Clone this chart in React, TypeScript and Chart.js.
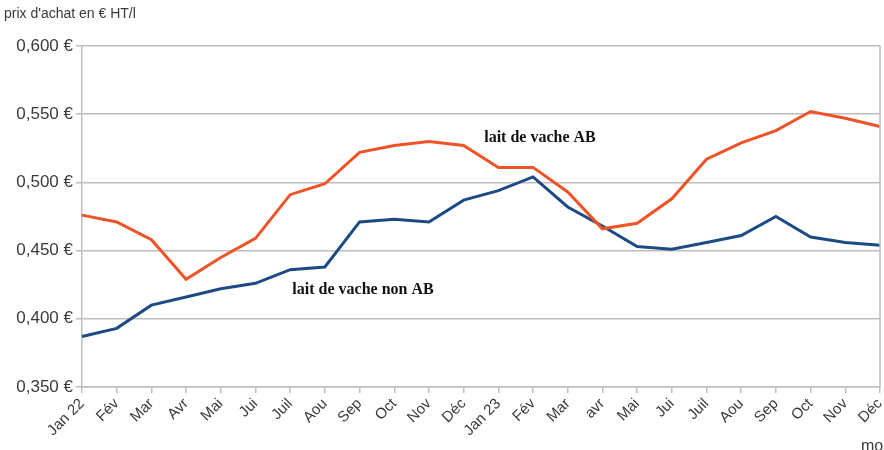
import React, { useEffect, useRef } from "react";
import { Chart, registerables } from "chart.js";

Chart.register(...registerables);

const months = [
  "Jan 22", "Fév", "Mar", "Avr", "Mai", "Jui", "Juil", "Aou", "Sep", "Oct", "Nov", "Déc",
  "Jan 23", "Fév", "Mar", "avr", "Mai", "Jui", "Juil", "Aou", "Sep", "Oct", "Nov", "Déc",
];

const laitAB = [
  0.476, 0.471, 0.458, 0.429, 0.445, 0.459, 0.491, 0.499, 0.522, 0.527, 0.530, 0.527,
  0.511, 0.511, 0.493, 0.466, 0.470, 0.488, 0.517, 0.529, 0.538, 0.552, 0.547, 0.541,
];

const laitNonAB = [
  0.387, 0.393, 0.410, 0.416, 0.422, 0.426, 0.436, 0.438, 0.471, 0.473, 0.471, 0.487,
  0.494, 0.504, 0.482, 0.468, 0.453, 0.451, 0.456, 0.461, 0.475, 0.460, 0.456, 0.454,
];

const yMin = 0.35;
const yMax = 0.6;
const yStep = 0.05;

const yTitle = "prix d'achat en € HT/l";
const xTitle = "mois";

// Series captions, anchored in data space (category index, price)
const captionAB = { text: "lait de vache AB", index: 13.2, value: 0.533 };
const captionNonAB = { text: "lait de vache non AB", index: 8.1, value: 0.421 };

const ORANGE = "#ef5326";
const NAVY = "#1d4a84";
const GRID = "#bdbdbd";
const TEXT = "#3a3a3a";

const overlayPlugin = {
  id: "overlay",
  afterDraw(chart: any) {
    const { ctx, chartArea, scales } = chart;
    const x = scales.x;
    const y = scales.y;
    ctx.save();

    // right frame line
    ctx.strokeStyle = GRID;
    ctx.lineWidth = 1.5;
    ctx.beginPath();
    ctx.moveTo(chartArea.right, chartArea.top);
    ctx.lineTo(chartArea.right, chartArea.bottom);
    ctx.stroke();

    // axis titles
    ctx.fillStyle = TEXT;
    ctx.font = '14px "Liberation Sans", Arial, sans-serif';
    ctx.textAlign = "left";
    ctx.textBaseline = "middle";
    ctx.fillText(yTitle, 4, 14);
    ctx.font = '16px "Liberation Sans", Arial, sans-serif';
    ctx.textBaseline = "top";
    ctx.fillText(xTitle, 861, 439);

    // series captions
    ctx.fillStyle = "#111";
    ctx.font = 'bold 16px "Liberation Serif", "Times New Roman", serif';
    ctx.textAlign = "center";
    ctx.textBaseline = "middle";
    for (const c of [captionAB, captionNonAB]) {
      ctx.fillText(c.text, x.getPixelForValue(c.index), y.getPixelForValue(c.value));
    }
    ctx.restore();
  },
};

export default function App() {
  const canvasRef = useRef<HTMLCanvasElement | null>(null);

  useEffect(() => {
    document.body.style.margin = "0";
    const canvas = canvasRef.current;
    if (!canvas) return;
    const chart = new Chart(canvas, {
      type: "line",
      data: {
        labels: months,
        datasets: [
          {
            label: "lait de vache AB",
            data: laitAB,
            borderColor: ORANGE,
            backgroundColor: ORANGE,
            borderWidth: 3,
            pointRadius: 0,
            tension: 0,
          },
          {
            label: "lait de vache non AB",
            data: laitNonAB,
            borderColor: NAVY,
            backgroundColor: NAVY,
            borderWidth: 3,
            pointRadius: 0,
            tension: 0,
          },
        ],
      },
      options: {
        responsive: false,
        animation: false,
        layout: { padding: { top: 46, right: 4, left: 0, bottom: 0 } },
        plugins: {
          legend: { display: false },
          tooltip: { enabled: false },
          title: { display: false },
        },
        scales: {
          x: {
            offset: false,
            grid: {
              display: true,
              drawOnChartArea: false,
              drawTicks: true,
              tickLength: 6,
              color: GRID,
              lineWidth: 1.5,
            },
            border: { display: true, color: GRID, width: 1.5 },
            ticks: {
              autoSkip: false,
              minRotation: 45,
              maxRotation: 45,
              padding: 2,
              color: TEXT,
              font: { family: '"Liberation Sans", Arial, sans-serif', size: 15 },
            },
            afterFit(scale: any) {
              scale.height = 63;
              scale.paddingLeft = 0;
              scale.paddingRight = 0;
            },
          },
          y: {
            min: yMin,
            max: yMax,
            grid: {
              color: GRID,
              lineWidth: 1.5,
              drawTicks: true,
              tickLength: 6,
            },
            border: { display: true, color: GRID, width: 1.5 },
            ticks: {
              stepSize: yStep,
              padding: 3,
              color: TEXT,
              font: { family: '"Liberation Sans", Arial, sans-serif', size: 17 },
              callback: (v: any) => Number(v).toFixed(3).replace(".", ",") + " €",
            },
            afterFit(scale: any) {
              scale.width = 82;
              scale.paddingTop = 0;
              scale.paddingBottom = 0;
            },
          },
        },
      },
      plugins: [overlayPlugin],
    });
    return () => chart.destroy();
  }, []);

  return (
    <div style={{ position: "absolute", left: 0, top: 0, width: 884, height: 450, background: "#fff" }}>
      <canvas ref={canvasRef} width={884} height={450} />
    </div>
  );
}
